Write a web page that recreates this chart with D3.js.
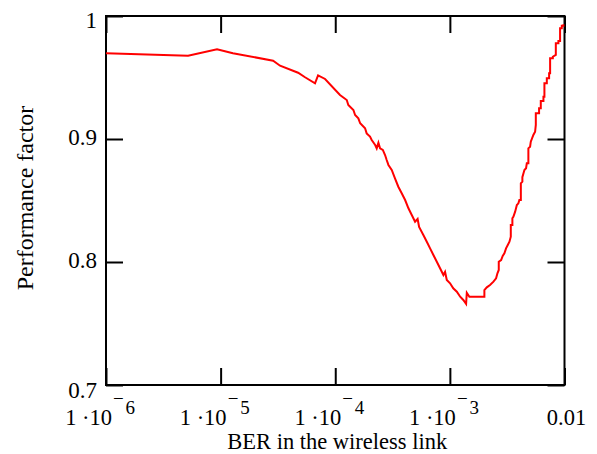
<!DOCTYPE html>
<html>
<head>
<meta charset="utf-8">
<script src="https://cdn.jsdelivr.net/npm/d3@7"></script>
<style>
  html, body { margin: 0; padding: 0; background: #fff; }
  svg { display: block; }
</style>
</head>
<body>
<svg id="chart" width="597" height="454"></svg>
<script>
// ---- data ----
const berValues = [
  1.00e-6, 5.20e-6, 9.30e-6, 1.28e-5, 2.87e-5, 3.30e-5, 4.74e-5, 5.45e-5, 6.66e-5, 7.08e-5,
  8.15e-5, 1.10e-4, 1.26e-4, 1.30e-4, 1.44e-4, 1.49e-4, 1.59e-4, 1.65e-4, 1.82e-4, 1.88e-4,
  2.01e-4, 2.08e-4, 2.23e-4, 2.30e-4, 2.38e-4, 2.46e-4, 2.60e-4, 2.72e-4, 2.81e-4, 2.91e-4,
  3.11e-4, 3.32e-4, 3.55e-4, 3.80e-4, 4.07e-4, 4.35e-4, 4.65e-4, 4.97e-4, 5.23e-4, 5.39e-4,
  5.87e-4, 6.29e-4, 6.72e-4, 7.18e-4, 7.69e-4, 8.21e-4, 8.78e-4, 9.08e-4, 9.40e-4, 1.004e-3,
  1.07e-3, 1.15e-3, 1.23e-3, 1.31e-3, 1.385e-3, 1.405e-3, 1.48e-3, 2.00e-3, 2.00e-3, 2.10e-3,
  2.24e-3, 2.40e-3, 2.53e-3, 2.60e-3, 2.67e-3, 2.67e-3, 2.80e-3, 2.89e-3, 2.99e-3, 3.09e-3,
  3.20e-3, 3.31e-3, 3.40e-3, 3.40e-3, 3.51e-3, 3.51e-3, 3.58e-3, 3.71e-3, 3.84e-3, 3.96e-3,
  4.04e-3, 4.16e-3, 4.16e-3, 4.29e-3, 4.29e-3, 4.47e-3, 4.62e-3, 4.69e-3, 4.84e-3, 4.84e-3,
  5.01e-3, 5.08e-3, 5.35e-3, 5.54e-3, 5.62e-3, 5.62e-3, 6.00e-3, 6.00e-3, 6.21e-3, 6.21e-3,
  6.55e-3, 6.55e-3, 6.68e-3, 6.68e-3, 7.01e-3, 7.01e-3, 7.34e-3, 7.34e-3, 7.49e-3, 7.49e-3,
  7.91e-3, 7.91e-3, 8.40e-3, 8.40e-3, 8.85e-3, 8.85e-3, 9.15e-3, 9.15e-3, 9.47e-3, 9.47e-3,
  9.78e-3, 9.78e-3
];
const perfValues = [
  0.9697, 0.9677, 0.9729, 0.9697, 0.9637, 0.9596, 0.9539, 0.9502, 0.9453, 0.9518,
  0.9488, 0.9358, 0.9317, 0.9276, 0.9236, 0.9195, 0.9168, 0.9128, 0.9087, 0.9046,
  0.9019, 0.8992, 0.8951, 0.8924, 0.8970, 0.8924, 0.8911, 0.8870, 0.8829, 0.8789,
  0.8748, 0.8680, 0.8612, 0.8559, 0.8504, 0.8437, 0.8382, 0.8328, 0.8350, 0.8285,
  0.8220, 0.8165, 0.8111, 0.8057, 0.8002, 0.7949, 0.7894, 0.7919, 0.7854, 0.7827,
  0.7786, 0.7759, 0.7718, 0.7691, 0.7659, 0.7750, 0.7718, 0.7718, 0.7772, 0.7794,
  0.7813, 0.7840, 0.7867, 0.7908, 0.7935, 0.8002, 0.8016, 0.8049, 0.8071, 0.8111,
  0.8138, 0.8165, 0.8206, 0.8301, 0.8301, 0.8355, 0.8368, 0.8409, 0.8463, 0.8477,
  0.8504, 0.8504, 0.8640, 0.8653, 0.8689, 0.8748, 0.8762, 0.8802, 0.8802, 0.8924,
  0.8937, 0.8978, 0.9033, 0.9059, 0.9114, 0.9209, 0.9209, 0.9250, 0.9250, 0.9309,
  0.9309, 0.9344, 0.9344, 0.9453, 0.9453, 0.9493, 0.9493, 0.9534, 0.9534, 0.9656,
  0.9656, 0.9669, 0.9683, 0.9778, 0.9778, 0.9797, 0.9797, 0.9900, 0.9900, 0.9921,
  0.9921, 0.9933
];
const xTickValues = [1e-6, 1e-5, 1e-4, 1e-3, 1e-2];
const xTickMantissa = ["1 \u00b710", "1 \u00b710", "1 \u00b710", "1 \u00b710", "0.01"];
const xTickExponent = ["6", "5", "4", "3", ""];
const yTickValues = [0.7, 0.8, 0.9, 1.0];
const yTickLabels = ["0.7", "0.8", "0.9", "1"];
const xTitle = "BER in the wireless link";
const yTitle = "Performance factor";

// ---- layout ----
const FONT = "'Liberation Serif', 'Times New Roman', Times, 'DejaVu Serif', serif";
const svg = d3.select("#chart");
const plot = { left: 106, right: 564.5, top: 16, bottom: 385 };
const x = d3.scaleLog().domain([1e-6, 1e-2]).range([plot.left, plot.right]);
const y = d3.scaleLinear().domain([0.7, 1.0]).range([plot.bottom, plot.top]);
const tickLen = 17;

const axisStyle = g => {
  g.select(".domain").remove();
  g.selectAll(".tick line").attr("stroke", "#000").attr("stroke-width", 2);
  g.selectAll(".tick text").remove();
};
svg.append("g").attr("transform", `translate(0,${plot.bottom})`)
  .call(d3.axisBottom(x).tickValues(xTickValues).tickSize(-tickLen).tickFormat(() => ""))
  .call(axisStyle);
svg.append("g").attr("transform", `translate(0,${plot.top})`)
  .call(d3.axisTop(x).tickValues(xTickValues).tickSize(-tickLen).tickFormat(() => ""))
  .call(axisStyle);
svg.append("g").attr("transform", `translate(${plot.left},0)`)
  .call(d3.axisLeft(y).tickValues(yTickValues).tickSize(-tickLen).tickFormat(() => ""))
  .call(axisStyle);
svg.append("g").attr("transform", `translate(${plot.right},0)`)
  .call(d3.axisRight(y).tickValues(yTickValues).tickSize(-tickLen).tickFormat(() => ""))
  .call(axisStyle);

svg.append("rect")
  .attr("x", plot.left).attr("y", plot.top)
  .attr("width", plot.right - plot.left).attr("height", plot.bottom - plot.top)
  .attr("fill", "none").attr("stroke", "#000").attr("stroke-width", 2);

const pts = berValues.map((b, i) => ({ ber: b, pf: perfValues[i] }));
svg.append("path")
  .datum(pts)
  .attr("fill", "none")
  .attr("stroke", "#ff0000")
  .attr("stroke-width", 2)
  .attr("d", d3.line().x(d => x(d.ber)).y(d => y(d.pf)));

svg.append("g").selectAll("text")
  .data(yTickValues)
  .join("text")
  .attr("font-family", FONT)
  .attr("x", 97)
  .attr("y", (d, i) => y(d) + (i === 0 ? 13 : i === yTickValues.length - 1 ? 12 : 6))
  .attr("text-anchor", "end")
  .attr("font-size", 23)
  .text((d, i) => yTickLabels[i]);

const xl = svg.append("g").attr("font-family", FONT);
xTickValues.forEach((v, i) => {
  const T = x(v);
  if (xTickExponent[i] === "") {
    xl.append("text").attr("x", T + 2).attr("y", 425)
      .attr("text-anchor", "middle").attr("font-size", 22.5).text(xTickMantissa[i]);
  } else {
    xl.append("text").attr("x", T + 6).attr("y", 425)
      .attr("text-anchor", "end").attr("font-size", 22.5).text(xTickMantissa[i]);
    xl.append("text").attr("x", T + 7).attr("y", 405)
      .attr("text-anchor", "start").attr("font-size", 19).text("\u2212");
    xl.append("text").attr("x", T + 19.5).attr("y", 414)
      .attr("text-anchor", "start").attr("font-size", 19).text(xTickExponent[i]);
  }
});

svg.append("text")
  .attr("font-family", FONT)
  .attr("x", (plot.left + plot.right) / 2 + 2).attr("y", 449)
  .attr("text-anchor", "middle").attr("font-size", 22.5).text(xTitle);
svg.append("text")
  .attr("font-family", FONT)
  .attr("transform", "translate(33,198) rotate(-90)")
  .attr("text-anchor", "middle").attr("font-size", 24).text(yTitle);
</script>
</body>
</html>
